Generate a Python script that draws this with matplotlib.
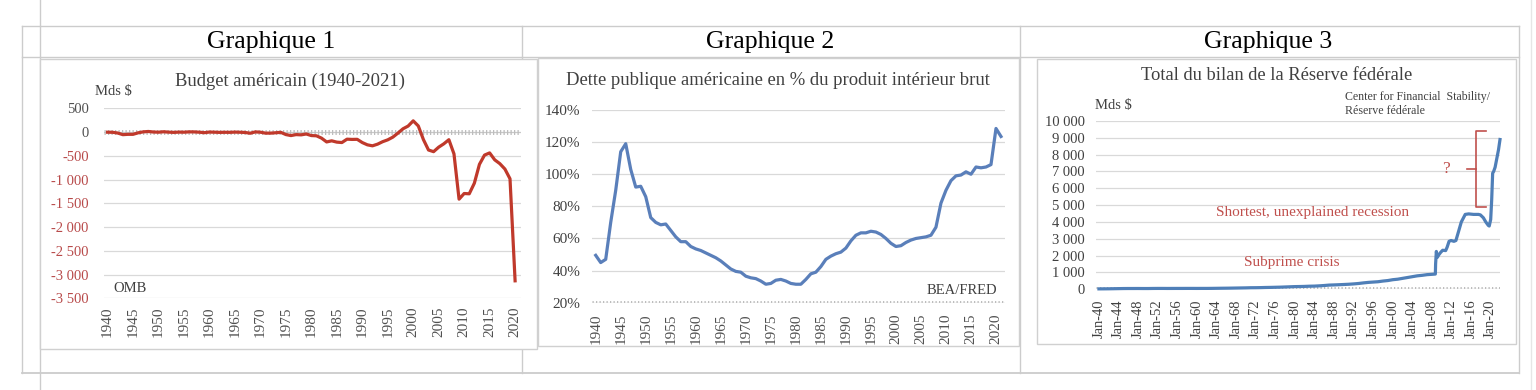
import matplotlib
matplotlib.use("Agg")
import matplotlib.pyplot as plt
from matplotlib.lines import Line2D
from matplotlib.patches import Rectangle
from matplotlib.ticker import FuncFormatter, FixedLocator
import numpy as np

plt.rcParams['font.family'] = ['Liberation Serif', 'DejaVu Serif']

# ---- data ----
budget_years = np.arange(1940, 2021)
budget = [-3, -5, -21, -55, -48, -48, -16, 4, 12, 1,
          -3, 6, -2, -7, -1, -3, 4, 3, -3, -13,
          0, -3, -7, -5, -6, -1, -4, -9, -25, 3,
          -3, -23, -23, -15, -6, -53, -74, -54, -59, -41,
          -74, -79, -128, -208, -185, -212, -221, -150, -155, -153,
          -221, -269, -290, -255, -203, -164, -107, -22, 69, 126,
          236, 128, -158, -378, -413, -318, -248, -161, -459, -1413,
          -1294, -1300, -1077, -680, -485, -439, -585, -665, -779, -984,
          -3132]

debt_years = np.arange(1940, 2022)
debt_pct = [49.5, 45, 47, 70, 90, 114, 119, 103, 92, 92.5,
            86, 73, 70, 68.5, 69, 65, 61, 58, 58, 55,
            53.5, 52.5, 51, 49.5, 48, 46, 43.5, 41, 39.5, 39,
            36.5, 35.5, 35, 33.5, 31.5, 32, 34, 34.5, 33.5, 32,
            31.5, 31.5, 34.5, 38, 39, 42.5, 47, 49, 50.5, 51.5,
            54, 58.5, 62, 63.5, 63.5, 64.5, 64, 62.5, 60, 57,
            55, 55.5, 57.5, 59, 60, 60.5, 61, 62, 67, 82,
            90, 96, 99, 99.5, 101.5, 100, 104.5, 104, 104.5, 106,
            128.5, 123.5]

fed_dates = [1940, 1941, 1942, 1943, 1944, 1945, 1946, 1947, 1948, 1949,
             1950, 1951, 1952, 1953, 1954, 1955, 1956, 1957, 1958, 1959,
             1960, 1961, 1962, 1963, 1964, 1965, 1966, 1967, 1968, 1969,
             1970, 1971, 1972, 1973, 1974, 1975, 1976, 1977, 1978, 1979,
             1980, 1981, 1982, 1983, 1984, 1985, 1986, 1987, 1988, 1989,
             1990, 1991, 1992, 1993, 1994, 1995, 1996, 1997, 1998, 1999,
             2000, 2001, 2002, 2003, 2004, 2005, 2006, 2007, 2008.0, 2008.7,
             2008.75, 2008.9, 2009.1, 2009.4, 2009.8, 2010.2, 2010.8, 2011.1, 2011.5, 2011.9,
             2012.5, 2012.9, 2013.5, 2014.0, 2014.8, 2015.5, 2016.5, 2017.5, 2017.9, 2018.5,
             2019.0, 2019.5, 2019.7, 2020.0, 2020.2, 2020.4, 2020.6, 2020.9, 2021.2, 2021.6,
             2021.9]
fed_values = [25, 27, 30, 35, 40, 45, 47, 47, 48, 46,
              46, 50, 52, 52, 50, 51, 52, 52, 53, 53,
              52, 53, 53, 55, 59, 63, 66, 70, 75, 80,
              85, 93, 95, 100, 108, 113, 120, 127, 138, 149,
              160, 165, 172, 184, 190, 205, 225, 250, 260, 272,
              285, 300, 320, 345, 380, 410, 430, 450, 490, 520,
              570, 600, 650, 700, 750, 800, 830, 870, 890, 905,
              1500, 2250, 1900, 2050, 2200, 2320, 2300, 2500, 2850, 2900,
              2850, 2900, 3500, 4000, 4450, 4480, 4450, 4450, 4420, 4250,
              4000, 3800, 3760, 4150, 5300, 6900, 7000, 7250, 7700, 8300,
              8900]

# ---- layout helpers (pixel -> figure fraction) ----
W, H = 1536, 390
def fx(x):
    return x / W
def fy(y):
    return 1 - y / H

fig = plt.figure(figsize=(15.36, 3.9), dpi=100)
fig.patch.set_facecolor('white')

table_col = '#cccccc'
def fline(x0, y0, x1, y1, col=table_col, lw=1.0, z=0.5):
    fig.add_artist(Line2D([fx(x0), fx(x1)], [fy(y0), fy(y1)], transform=fig.transFigure,
                          color=col, lw=lw, zorder=z))

# table
fline(40, 0, 40, 390)
fline(1531, 0, 1531, 390, col='#e6e6e6')
fline(22, 26, 1519, 26)
fline(22, 57, 1519, 57)
fline(22, 373, 1519, 373, lw=1.3)
fline(22, 26, 22, 373)
fline(1519, 26, 1519, 373)
fline(522, 26, 522, 373)
fline(1020, 26, 1020, 373)

for i, cx in enumerate([271, 770, 1268]):
    fig.text(fx(cx), fy(42), f"Graphique {i + 1}", ha='center', va='center',
             fontsize=18.5, color='black', zorder=6)

# chart frames
for (x0, y0, x1, y1) in [(40, 59, 537, 349), (538, 58, 1019, 346), (1037, 59, 1516, 344)]:
    fig.add_artist(Rectangle((fx(x0), fy(y1)), fx(x1) - fx(x0), fy(y0) - fy(y1),
                             transform=fig.transFigure, facecolor='white',
                             edgecolor='#d0d0d0', lw=1.0, zorder=1))

grid_col = '#d9d9d9'
tick_col = '#404040'


def make_axes(x0, y0, x1, y1):
    ax = fig.add_axes([fx(x0), fy(y1), fx(x1) - fx(x0), fy(y0) - fy(y1)])
    ax.set_zorder(5)
    ax.patch.set_alpha(0)
    for s in ax.spines.values():
        s.set_visible(False)
    ax.tick_params(length=0, colors=tick_col)
    ax.grid(axis='y', color=grid_col, lw=0.9)
    ax.set_axisbelow(True)
    return ax


def dotted_axis(ax, y):
    ax.axhline(y, color='#c8c8c8', lw=0.8, zorder=1)
    ax.axhline(y, color='#bdbdbd', lw=3.6, linestyle=(0, (0.25, 0.45)), zorder=1)


# ---- Graphique 1 ----
ax1 = make_axes(104, 108.3, 520.7, 298.3)
dotted_axis(ax1, 0)
ax1.plot(budget_years, budget, color='#c0392b', lw=2.3, zorder=3, solid_joinstyle='round')
ax1.set_xlim(1939.3, 2021.1)
ax1.set_ylim(-3500, 500)
ax1.yaxis.set_major_locator(FixedLocator(np.arange(-3500, 501, 500)))
ax1.yaxis.set_major_formatter(FuncFormatter(lambda v, p: f"{int(v):,}".replace(",", " ")))
ax1.set_xticks(np.arange(1940, 2021, 5))
ax1.tick_params(axis='x', rotation=90, pad=6, labelsize=11, colors='#505050')
ax1.tick_params(axis='y', pad=11, labelsize=10.5)
for lab in ax1.get_yticklabels():
    if lab.get_position()[1] < 0:
        lab.set_color('#b84a4a')
    else:
        lab.set_color('#505050')
fig.text(fx(290), fy(81.5), "Budget américain (1940-2021)", ha='center', va='center',
         fontsize=13.4, color='#404040', zorder=6)
fig.text(fx(95), fy(92), "Mds $", ha='left', va='center', fontsize=10.5,
         color='#404040', zorder=6)
fig.text(fx(113), fy(288.5), "OMB", ha='left', va='center', fontsize=10.5,
         color='#404040', zorder=6)

# ---- Graphique 2 ----
ax2 = make_axes(591.7, 110, 1005, 302.7)
dotted_axis(ax2, 20)
ax2.plot(debt_years, debt_pct, color='#5a7fba', lw=2.3, zorder=3, solid_joinstyle='round')
ax2.set_xlim(1939.2, 2021.8)
ax2.set_ylim(20, 140)
ax2.yaxis.set_major_locator(FixedLocator(np.arange(20, 141, 20)))
ax2.yaxis.set_major_formatter(FuncFormatter(lambda v, p: f"{v:.0f}%"))
ax2.set_xticks(np.arange(1940, 2021, 5))
ax2.tick_params(axis='x', rotation=90, pad=8, labelsize=11, colors='#505050')
ax2.tick_params(axis='y', pad=8, labelsize=11)
fig.text(fx(778), fy(80.5), "Dette publique américaine en % du produit intérieur brut",
         ha='center', va='center', fontsize=13.4, color='#404040', zorder=6)
fig.text(fx(997), fy(290), "BEA/FRED", ha='right', va='center', fontsize=10.5,
         color='#404040', zorder=6)

# ---- Graphique 3 ----
ax3 = make_axes(1096, 121, 1500, 289.3)
dotted_axis(ax3, 0)
ax3.plot(fed_dates, fed_values, color='#4f7fb8', lw=2.3, zorder=3, clip_on=False,
         solid_joinstyle='round')
ax3.set_xlim(1939.4, 2021.9)
ax3.set_ylim(0, 10000)
ax3.yaxis.set_major_locator(FixedLocator(np.arange(0, 10001, 1000)))
ax3.yaxis.set_major_formatter(FuncFormatter(lambda v, p: f"{int(v):,}".replace(",", " ")))
fed_ticks = np.arange(1940, 2021, 4)
ax3.set_xticks(fed_ticks)
ax3.set_xticklabels([f"Jan-{t % 100:02d}" for t in fed_ticks])
ax3.tick_params(axis='x', rotation=90, pad=7, labelsize=10.5, colors='#404040')
ax3.tick_params(axis='y', pad=8, labelsize=10.5)

red_txt = '#c0504d'
ax3.text(1979.4, 1600, "Subprime crisis", ha='center', va='center', fontsize=11, color=red_txt)
ax3.text(1983.6, 4575, "Shortest, unexplained recession", ha='center', va='center',
         fontsize=11, color=red_txt)
ax3.text(2010.9, 7150, "?", ha='center', va='center', fontsize=12.5, color=red_txt)
ax3.plot([2019.0, 2017.0, 2017.0, 2019.0], [9406, 9406, 4908, 4908], color=red_txt,
         lw=1.2, clip_on=False, zorder=4)
ax3.plot([2015.2, 2017.0], [7148, 7148], color=red_txt, lw=1.2, clip_on=False, zorder=4)

fig.text(fx(1277), fy(75), "Total du bilan de la Réserve fédérale", ha='center', va='center',
         fontsize=13.3, color='#404040', zorder=6)
fig.text(fx(1095), fy(105.5), "Mds $", ha='left', va='center', fontsize=10.5,
         color='#404040', zorder=6)
fig.text(fx(1345), fy(104), "Center for Financial  Stability/\nRéserve fédérale", ha='left',
         va='center', fontsize=8.6, color='#404040', linespacing=1.25, zorder=6)

fig.savefig("out.png", dpi=100, facecolor='white')
